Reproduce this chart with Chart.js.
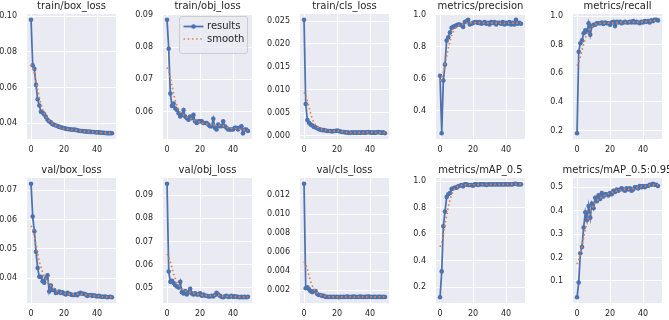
<!DOCTYPE html>
<html>
<head>
<meta charset="utf-8">
<script src="https://cdn.jsdelivr.net/npm/chart.js@4.4.1/dist/chart.umd.min.js"></script>
<style>
  body { margin: 0; background: #ffffff; }
  #fig { position: relative; width: 669px; height: 320px; overflow: hidden; }
  #fig canvas { position: absolute; }
</style>
</head>
<body>
<div id="fig"></div>
<script>
// epochs
var epochs = [0, 1, 2, 3, 4, 5, 6, 7, 8, 9, 10, 11, 12, 13, 14, 15, 16, 17, 18, 19,
  20, 21, 22, 23, 24, 25, 26, 27, 28, 29, 30, 31, 32, 33, 34, 35, 36, 37, 38, 39,
  40, 41, 42, 43, 44, 45, 46, 47, 48, 49];

var titles = ["train/box_loss", "train/obj_loss", "train/cls_loss", "metrics/precision", "metrics/recall",
  "val/box_loss", "val/obj_loss", "val/cls_loss", "metrics/mAP_0.5", "metrics/mAP_0.5:0.95"];

var legendLabels = ["results", "smooth"];

// results
var trainBoxLoss = [0.098, 0.0725, 0.0705, 0.0615, 0.0535, 0.050, 0.0465, 0.046, 0.045, 0.0435,
  0.042, 0.041, 0.0405, 0.0395, 0.0392, 0.0388, 0.0385, 0.038, 0.0378, 0.0375,
  0.0372, 0.037, 0.0368, 0.0367, 0.0366, 0.0364, 0.0365, 0.0363, 0.0361, 0.0358,
  0.0357, 0.0357, 0.0355, 0.0355, 0.0353, 0.0354, 0.0352, 0.0351, 0.0351, 0.035,
  0.0349, 0.0349, 0.0348, 0.0347, 0.0347, 0.0346, 0.0345, 0.0345, 0.0345, 0.0344];
var trainObjLoss = [0.0885, 0.0795, 0.0656, 0.0618, 0.0625, 0.061, 0.0605, 0.0595, 0.0585, 0.059,
  0.0605, 0.0585, 0.058, 0.0575, 0.0585, 0.058, 0.059, 0.057, 0.0565, 0.057,
  0.057, 0.057, 0.0565, 0.0565, 0.0565, 0.056, 0.0555, 0.0555, 0.0578, 0.055,
  0.0545, 0.056, 0.0555, 0.0555, 0.057, 0.0555, 0.055, 0.0545, 0.0545, 0.0545,
  0.0545, 0.055, 0.055, 0.0545, 0.055, 0.0555, 0.0533, 0.0545, 0.0545, 0.054];
var trainClsLoss = [0.0253, 0.0069, 0.0034, 0.0028, 0.0024, 0.0022, 0.0019, 0.0018, 0.0016, 0.0014,
  0.0013, 0.0012, 0.0012, 0.0011, 0.0010, 0.0010, 0.0010, 0.0009, 0.0010, 0.0010,
  0.0011, 0.0010, 0.0009, 0.0008, 0.0008, 0.0007, 0.0007, 0.0006, 0.0006, 0.0007,
  0.0006, 0.0007, 0.0006, 0.0007, 0.0006, 0.0007, 0.0007, 0.0006, 0.0007, 0.0008,
  0.0007, 0.0006, 0.0007, 0.0006, 0.0007, 0.0008, 0.0007, 0.0006, 0.0007, 0.0005];
var precision = [0.62, 0.26, 0.59, 0.69, 0.84, 0.86, 0.89, 0.92, 0.925, 0.93,
  0.935, 0.94, 0.94, 0.935, 0.925, 0.955, 0.96, 0.97, 0.94, 0.945,
  0.95, 0.955, 0.955, 0.95, 0.955, 0.945, 0.95, 0.955, 0.945, 0.95,
  0.94, 0.955, 0.95, 0.955, 0.94, 0.95, 0.95, 0.945, 0.955, 0.94,
  0.95, 0.945, 0.955, 0.94, 0.95, 0.94, 0.97, 0.945, 0.95, 0.945];
var recall = [0.18, 0.75, 0.81, 0.83, 0.88, 0.90, 0.89, 0.95, 0.87, 0.93,
  0.94, 0.94, 0.95, 0.95, 0.95, 0.955, 0.945, 0.955, 0.95, 0.95,
  0.94, 0.955, 0.96, 0.93, 0.96, 0.955, 0.96, 0.95, 0.955, 0.96,
  0.955, 0.955, 0.96, 0.955, 0.965, 0.955, 0.96, 0.955, 0.95, 0.96,
  0.955, 0.965, 0.96, 0.965, 0.955, 0.97, 0.965, 0.975, 0.975, 0.97];
var valBoxLoss = [0.0722, 0.061, 0.056, 0.049, 0.0435, 0.0405, 0.0405, 0.039, 0.0385, 0.040,
  0.041, 0.0355, 0.0375, 0.036, 0.036, 0.035, 0.0352, 0.0355, 0.035, 0.0352,
  0.0348, 0.0345, 0.035, 0.0347, 0.0345, 0.0343, 0.0343, 0.0345, 0.0342, 0.0348,
  0.035, 0.0347, 0.0347, 0.0345, 0.034, 0.0342, 0.0343, 0.034, 0.0342, 0.034,
  0.0338, 0.034, 0.0338, 0.0337, 0.0337, 0.0338, 0.0335, 0.0336, 0.0337, 0.0335];
var valObjLoss = [0.095, 0.057, 0.0525, 0.053, 0.052, 0.051, 0.0505, 0.050, 0.0525, 0.048,
  0.0475, 0.0485, 0.047, 0.048, 0.0495, 0.0475, 0.047, 0.0475, 0.047, 0.047,
  0.0475, 0.0465, 0.047, 0.0465, 0.0465, 0.0462, 0.0462, 0.0465, 0.0462, 0.0468,
  0.0478, 0.047, 0.0465, 0.046, 0.0458, 0.0462, 0.0465, 0.046, 0.046, 0.0465,
  0.046, 0.0462, 0.046, 0.046, 0.0458, 0.046, 0.0458, 0.046, 0.0458, 0.046];
var valClsLoss = [0.0132, 0.0022, 0.0023, 0.0021, 0.0019, 0.0018, 0.0019, 0.0019, 0.0016, 0.0015,
  0.0015, 0.0014, 0.0014, 0.0013, 0.0013, 0.00128, 0.0013, 0.00128, 0.0013, 0.00128,
  0.0013, 0.00125, 0.0013, 0.00128, 0.0013, 0.00128, 0.00132, 0.0013, 0.00128, 0.0013,
  0.00132, 0.0013, 0.00128, 0.0013, 0.00132, 0.0013, 0.00128, 0.0013, 0.0013, 0.00132,
  0.0013, 0.00128, 0.0013, 0.0013, 0.00128, 0.0013, 0.0013, 0.00128, 0.0013, 0.00128];
var mAP50 = [0.125, 0.32, 0.66, 0.77, 0.88, 0.90, 0.91, 0.94, 0.945, 0.95,
  0.95, 0.96, 0.965, 0.97, 0.96, 0.975, 0.975, 0.97, 0.97, 0.97,
  0.965, 0.975, 0.975, 0.97, 0.975, 0.975, 0.975, 0.975, 0.97, 0.975,
  0.975, 0.975, 0.975, 0.975, 0.975, 0.975, 0.975, 0.975, 0.975, 0.975,
  0.975, 0.975, 0.975, 0.975, 0.975, 0.98, 0.98, 0.975, 0.975, 0.975];
var mAP5095 = [0.03, 0.093, 0.218, 0.245, 0.328, 0.393, 0.36, 0.42, 0.37, 0.43,
  0.41, 0.455, 0.44, 0.465, 0.45, 0.475, 0.46, 0.47, 0.47, 0.465,
  0.475, 0.47, 0.485, 0.48, 0.49, 0.485, 0.49, 0.495, 0.49, 0.485,
  0.495, 0.49, 0.495, 0.485, 0.49, 0.5, 0.5, 0.495, 0.505, 0.5,
  0.505, 0.5, 0.505, 0.505, 0.51, 0.51, 0.515, 0.51, 0.51, 0.505];

// smooth (dotted orange)
var trainBoxSmooth = [0.073, 0.071, 0.0676, 0.0633, 0.0588, 0.0545, 0.051, 0.0479, 0.0455, 0.0438,
  0.0425, 0.0414, 0.0405, 0.0398, 0.0392, 0.0387, 0.0383, 0.0379, 0.0376, 0.0373,
  0.0371, 0.0369, 0.0367, 0.0366, 0.0365, 0.0364, 0.0363, 0.0362, 0.036, 0.0359,
  0.0357, 0.0356, 0.0355, 0.0354, 0.0354, 0.0353, 0.0352, 0.0351, 0.0351, 0.035,
  0.0349, 0.0349, 0.0348, 0.0347, 0.0347, 0.0346, 0.0346, 0.0345, 0.0345, 0.0345];
var trainObjSmooth = [0.0737, 0.0725, 0.0705, 0.068, 0.0655, 0.0634, 0.0618, 0.0607, 0.0599, 0.0594,
  0.059, 0.0587, 0.0584, 0.0582, 0.058, 0.0578, 0.0576, 0.0573, 0.0571, 0.0569,
  0.0567, 0.0566, 0.0564, 0.0563, 0.0562, 0.0561, 0.0561, 0.056, 0.0559, 0.0558,
  0.0558, 0.0558, 0.0558, 0.0557, 0.0556, 0.0554, 0.0552, 0.055, 0.0549, 0.0548,
  0.0548, 0.0548, 0.0548, 0.0547, 0.0546, 0.0545, 0.0544, 0.0543, 0.0542, 0.0542];
var trainClsSmooth = [0.0095, 0.0089, 0.0076, 0.0062, 0.0048, 0.0036, 0.0028, 0.0022, 0.0019, 0.0016,
  0.00145, 0.0013, 0.0012, 0.00115, 0.0011, 0.00105, 0.001, 0.001, 0.001, 0.001,
  0.001, 0.00098, 0.00093, 0.00088, 0.00082, 0.00076, 0.00071, 0.00068, 0.00066, 0.00065,
  0.00065, 0.00065, 0.00065, 0.00065, 0.00066, 0.00066, 0.00067, 0.00068, 0.00069, 0.0007,
  0.0007, 0.00069, 0.00068, 0.00068, 0.00068, 0.00068, 0.00067, 0.00066, 0.00065, 0.00064];
var precisionSmooth = [0.587, 0.606, 0.642, 0.69, 0.742, 0.792, 0.836, 0.871, 0.895, 0.912,
  0.924, 0.932, 0.937, 0.941, 0.944, 0.946, 0.948, 0.949, 0.95, 0.951,
  0.951, 0.951, 0.951, 0.951, 0.951, 0.95, 0.95, 0.95, 0.95, 0.949,
  0.949, 0.949, 0.949, 0.948, 0.948, 0.948, 0.948, 0.948, 0.947, 0.947,
  0.947, 0.948, 0.948, 0.949, 0.949, 0.949, 0.949, 0.949, 0.949, 0.949];
var recallSmooth = [0.653, 0.675, 0.714, 0.76, 0.806, 0.845, 0.874, 0.895, 0.912, 0.925,
  0.935, 0.942, 0.946, 0.948, 0.95, 0.951, 0.951, 0.951, 0.951, 0.951,
  0.951, 0.951, 0.952, 0.953, 0.954, 0.955, 0.956, 0.956, 0.957, 0.957,
  0.957, 0.958, 0.958, 0.958, 0.958, 0.958, 0.958, 0.958, 0.958, 0.959,
  0.96, 0.961, 0.962, 0.964, 0.965, 0.967, 0.968, 0.969, 0.97, 0.97];
var valBoxSmooth = [0.0579, 0.0566, 0.0544, 0.0515, 0.0485, 0.0457, 0.0437, 0.0421, 0.0408, 0.0398,
  0.0389, 0.0381, 0.0374, 0.0368, 0.0363, 0.0359, 0.0355, 0.0353, 0.0351, 0.035,
  0.0349, 0.0348, 0.0347, 0.0346, 0.0346, 0.0345, 0.0345, 0.0345, 0.0346, 0.0346,
  0.0346, 0.0346, 0.0345, 0.0344, 0.0343, 0.0342, 0.0341, 0.0341, 0.034, 0.034,
  0.0339, 0.0339, 0.0338, 0.0337, 0.0337, 0.0337, 0.0336, 0.0336, 0.0336, 0.0336];
var valObjSmooth = [0.0646, 0.0633, 0.0611, 0.0585, 0.0559, 0.054, 0.0524, 0.0512, 0.0503, 0.0496,
  0.049, 0.0486, 0.0483, 0.0481, 0.0479, 0.0477, 0.0476, 0.0474, 0.0472, 0.0471,
  0.047, 0.0468, 0.0467, 0.0466, 0.0465, 0.0465, 0.0465, 0.0466, 0.0467, 0.0467,
  0.0467, 0.0467, 0.0466, 0.0464, 0.0463, 0.0462, 0.0462, 0.0462, 0.0462, 0.0462,
  0.0461, 0.0461, 0.046, 0.046, 0.0459, 0.0459, 0.0459, 0.0459, 0.0459, 0.0459];
var valClsSmooth = [0.005, 0.0047, 0.0042, 0.0035, 0.0029, 0.00245, 0.0021, 0.00185, 0.0017, 0.0016,
  0.00152, 0.00146, 0.0014, 0.00136, 0.00133, 0.00131, 0.0013, 0.00129, 0.00129, 0.00129,
  0.00129, 0.00129, 0.00129, 0.00129, 0.00129, 0.0013, 0.0013, 0.0013, 0.0013, 0.0013,
  0.0013, 0.0013, 0.0013, 0.0013, 0.0013, 0.0013, 0.0013, 0.0013, 0.0013, 0.0013,
  0.0013, 0.0013, 0.0013, 0.00129, 0.00129, 0.00129, 0.00129, 0.00129, 0.00129, 0.00129];
var mAP50Smooth = [0.504, 0.536, 0.595, 0.667, 0.74, 0.805, 0.857, 0.897, 0.925, 0.943,
  0.954, 0.961, 0.965, 0.968, 0.97, 0.971, 0.972, 0.972, 0.972, 0.972,
  0.972, 0.972, 0.973, 0.973, 0.973, 0.974, 0.974, 0.974, 0.974, 0.974,
  0.974, 0.975, 0.975, 0.975, 0.975, 0.975, 0.975, 0.975, 0.975, 0.975,
  0.975, 0.976, 0.976, 0.976, 0.976, 0.977, 0.977, 0.977, 0.977, 0.977];
var mAP5095Smooth = [0.172, 0.187, 0.214, 0.248, 0.284, 0.319, 0.349, 0.373, 0.393, 0.409,
  0.422, 0.433, 0.442, 0.449, 0.455, 0.459, 0.463, 0.466, 0.469, 0.472,
  0.474, 0.477, 0.479, 0.482, 0.484, 0.486, 0.488, 0.489, 0.49, 0.491,
  0.491, 0.491, 0.492, 0.493, 0.494, 0.496, 0.497, 0.499, 0.5, 0.502,
  0.503, 0.504, 0.505, 0.507, 0.508, 0.509, 0.509, 0.51, 0.51, 0.51];

// tick values / labels
var xTicks = [0, 20, 40];
var yTicks = [
  [0.04, 0.06, 0.08, 0.10],
  [0.06, 0.07, 0.08, 0.09],
  [0, 0.005, 0.010, 0.015, 0.020, 0.025],
  [0.4, 0.6, 0.8, 1.0],
  [0.2, 0.4, 0.6, 0.8, 1.0],
  [0.04, 0.05, 0.06, 0.07],
  [0.05, 0.06, 0.07, 0.08, 0.09],
  [0.002, 0.004, 0.006, 0.008, 0.010, 0.012],
  [0.2, 0.4, 0.6, 0.8, 1.0],
  [0.1, 0.2, 0.3, 0.4, 0.5]
];
var yTickLabels = [
  ["0.04", "0.06", "0.08", "0.10"],
  ["0.06", "0.07", "0.08", "0.09"],
  ["0.000", "0.005", "0.010", "0.015", "0.020", "0.025"],
  ["0.4", "0.6", "0.8", "1.0"],
  ["0.2", "0.4", "0.6", "0.8", "1.0"],
  ["0.04", "0.05", "0.06", "0.07"],
  ["0.05", "0.06", "0.07", "0.08", "0.09"],
  ["0.002", "0.004", "0.006", "0.008", "0.010", "0.012"],
  ["0.2", "0.4", "0.6", "0.8", "1.0"],
  ["0.1", "0.2", "0.3", "0.4", "0.5"]
];

var resultsSeries = [trainBoxLoss, trainObjLoss, trainClsLoss, precision, recall,
  valBoxLoss, valObjLoss, valClsLoss, mAP50, mAP5095];
var smoothSeries = [trainBoxSmooth, trainObjSmooth, trainClsSmooth, precisionSmooth, recallSmooth,
  valBoxSmooth, valObjSmooth, valClsSmooth, mAP50Smooth, mAP5095Smooth];

// look
var BLUE = "#4C72B0", ORANGE = "#DD8452", AXBG = "#EAEAF2", TXT = "#262626";
var FONT = "'DejaVu Sans', sans-serif";

// grid of axes (plot area positions in px)
var colLeft = [27, 163, 300, 436, 573];
var rowTop = [14, 178];
var plotW = 89, plotH = 125;
var yAxisW = 40, titleH = 16, xAxisH = 18, padRight = 40;

// axes face colour
var axBg = {
  id: "axBg",
  beforeDraw: function (chart) {
    var a = chart.chartArea, ctx = chart.ctx;
    ctx.save();
    ctx.fillStyle = AXBG;
    ctx.fillRect(a.left, a.top, a.right - a.left, a.bottom - a.top);
    ctx.restore();
  }
};

// title is centred over the plot area but may run wider than it
var wideTitle = {
  id: "wideTitle",
  afterLayout: function (chart) {
    var t = chart.titleBlock;
    if (!t) return;
    t.left -= yAxisW;
    t.right += padRight;
    t.width = t.right - t.left;
  }
};

// matplotlib-like legend box in upper right of the plot area
var boxLegend = {
  id: "boxLegend",
  afterDatasetsDraw: function (chart) {
    var a = chart.chartArea, ctx = chart.ctx;
    var w = 68, h = 37, r = 2.5;
    var x0 = Math.round(a.right - 5 - w) + 0.5, y0 = Math.round(a.top + 1.5) + 0.5;
    ctx.save();
    ctx.beginPath();
    ctx.moveTo(x0 + r, y0);
    ctx.arcTo(x0 + w, y0, x0 + w, y0 + h, r);
    ctx.arcTo(x0 + w, y0 + h, x0, y0 + h, r);
    ctx.arcTo(x0, y0 + h, x0, y0, r);
    ctx.arcTo(x0, y0, x0 + w, y0, r);
    ctx.closePath();
    ctx.fillStyle = "rgba(234,234,242,0.8)";
    ctx.fill();
    ctx.strokeStyle = "#cccccc";
    ctx.lineWidth = 1;
    ctx.stroke();

    var ly1 = y0 + 10, ly2 = y0 + 22.5;
    ctx.lineWidth = 1.75;
    ctx.strokeStyle = BLUE;
    ctx.beginPath();
    ctx.moveTo(x0 + 4, ly1);
    ctx.lineTo(x0 + 24, ly1);
    ctx.stroke();
    ctx.fillStyle = BLUE;
    ctx.beginPath();
    ctx.arc(x0 + 14, ly1, 2.3, 0, Math.PI * 2);
    ctx.fill();

    ctx.strokeStyle = ORANGE;
    ctx.lineWidth = 1.7;
    ctx.setLineDash([1.6, 2.6]);
    ctx.beginPath();
    ctx.moveTo(x0 + 4, ly2);
    ctx.lineTo(x0 + 24, ly2);
    ctx.stroke();
    ctx.setLineDash([]);

    ctx.fillStyle = TXT;
    ctx.font = "10px " + FONT;
    ctx.textBaseline = "middle";
    ctx.textAlign = "left";
    ctx.fillText(legendLabels[0], x0 + 27.5, ly1);
    ctx.fillText(legendLabels[1], x0 + 27.5, ly2);
    ctx.restore();
  }
};

var fig = document.getElementById("fig");

titles.forEach(function (title, i) {
  var col = i % 5, row = Math.floor(i / 5);
  var res = resultsSeries[i], sm = smoothSeries[i];

  var cv = document.createElement("canvas");
  cv.width = yAxisW + plotW + padRight;
  cv.height = titleH + plotH + xAxisH;
  cv.style.left = (colLeft[col] - yAxisW) + "px";
  cv.style.top = (rowTop[row] - titleH) + "px";
  fig.appendChild(cv);

  // autoscale like matplotlib (5% margins)
  var all = res.concat(sm);
  var lo = Math.min.apply(null, all), hi = Math.max.apply(null, all);
  var m = (hi - lo) * 0.05;

  var ticks = yTicks[i], labels = yTickLabels[i];

  new Chart(cv.getContext("2d"), {
    type: "line",
    data: {
      datasets: [
        {
          label: legendLabels[0],
          data: res.map(function (v, k) { return { x: epochs[k], y: v }; }),
          borderColor: BLUE,
          backgroundColor: BLUE,
          borderWidth: 1.75,
          pointRadius: 2.3,
          pointBorderWidth: 0,
          pointBackgroundColor: BLUE,
          tension: 0,
          order: 1
        },
        {
          label: legendLabels[1],
          data: sm.map(function (v, k) { return { x: epochs[k], y: v }; }),
          borderColor: ORANGE,
          borderWidth: 1.7,
          borderDash: [1.6, 2.6],
          pointRadius: 0,
          fill: false,
          tension: 0,
          order: 0
        }
      ]
    },
    options: {
      responsive: false,
      animation: false,
      devicePixelRatio: 1,
      events: [],
      layout: { padding: { left: 0, top: 0, right: padRight, bottom: 0 } },
      plugins: {
        legend: { display: false },
        tooltip: { enabled: false },
        title: {
          display: true,
          text: title,
          color: TXT,
          fullSize: false,
          font: { family: FONT, size: 10, weight: "normal", lineHeight: "11px" },
          padding: { top: 2.5, bottom: 2.5 }
        }
      },
      scales: {
        x: {
          type: "linear",
          min: -2.45,
          max: 51.45,
          afterBuildTicks: function (s) { s.ticks = xTicks.map(function (v) { return { value: v }; }); },
          afterFit: function (s) { s.height = xAxisH; },
          grid: { color: "#ffffff", lineWidth: 1, drawTicks: false },
          border: { display: false },
          ticks: {
            color: TXT,
            font: { family: FONT, size: 8 },
            padding: 6,
            maxRotation: 0,
            autoSkip: false,
            callback: function (v) { return String(v); }
          }
        },
        y: {
          type: "linear",
          min: lo - m,
          max: hi + m,
          afterBuildTicks: function (s) { s.ticks = ticks.map(function (v) { return { value: v }; }); },
          afterFit: function (s) { s.width = yAxisW; },
          grid: { color: "#ffffff", lineWidth: 1, drawTicks: false },
          border: { display: false },
          ticks: {
            color: TXT,
            font: { family: FONT, size: 8 },
            padding: 10,
            autoSkip: false,
            callback: function (v, k) { return labels[k]; }
          }
        }
      }
    },
    plugins: i === 1 ? [axBg, wideTitle, boxLegend] : [axBg, wideTitle]
  });
});
</script>
</body>
</html>
